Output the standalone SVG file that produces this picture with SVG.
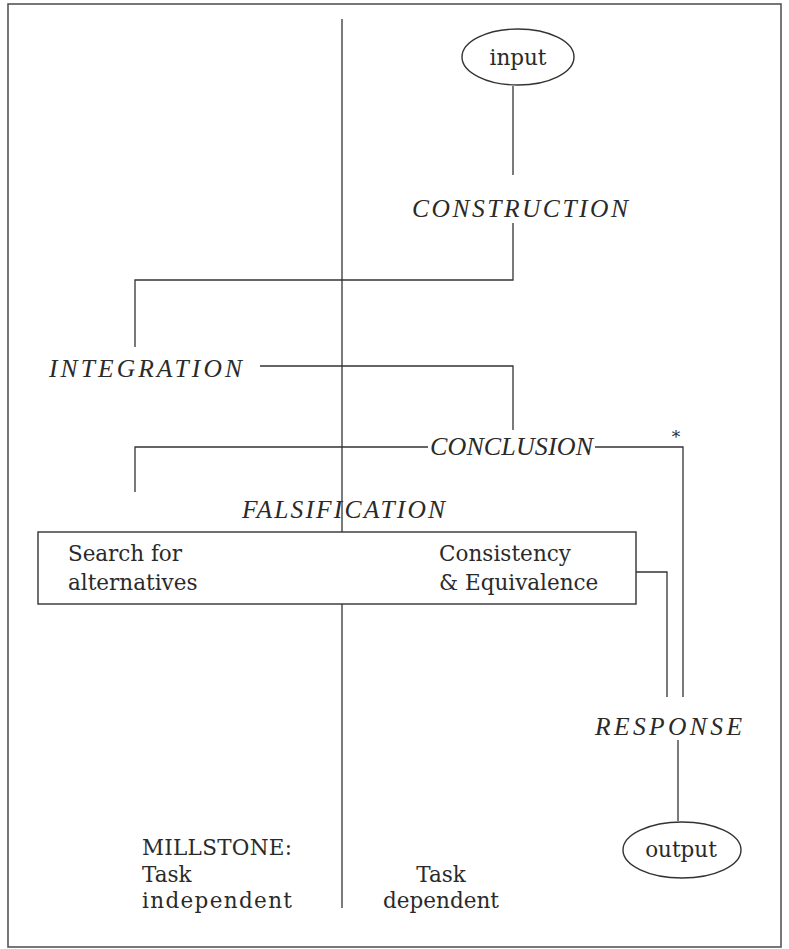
<svg xmlns="http://www.w3.org/2000/svg" width="789" height="949" viewBox="0 0 789 949">
<style>
.cap{font-family:"Liberation Serif","Times New Roman",serif;font-style:italic;font-size:25.5px;fill:#2a2a2a}
.txt{font-family:"DejaVu Serif","Liberation Serif",serif;font-size:21.5px;fill:#2a2a2a}
.ln{fill:none;stroke:#333;stroke-width:1.3}
.frame{fill:none;stroke:#555;stroke-width:1.6}
.shape{fill:#fff;stroke:#333;stroke-width:1.4}
</style>
<rect x="0" y="0" width="789" height="949" fill="#fff"/>
<rect class="frame" x="8" y="4" width="773" height="943"/>
<line class="ln" x1="342" y1="19" x2="342" y2="908"/>
<g id="connectors">
<path class="ln" d="M513 86 V175"/>
<path class="ln" d="M513 223 V280 H135 V347"/>
<path class="ln" d="M260 366 H513 V430"/>
<path class="ln" d="M428 447 H135 V492"/>
<path class="ln" d="M595 447 H683 V697"/>
<path class="ln" d="M636 572 H667 V697"/>
<path class="ln" d="M678 740 V821"/>
</g>
<g id="input">
<ellipse class="shape" cx="518" cy="57" rx="56" ry="28"/>
<text class="txt" x="518" y="65" text-anchor="middle">input</text>
</g>
<g id="construction"><text class="cap" x="412" y="217" textLength="216">CONSTRUCTION</text></g>
<g id="integration"><text class="cap" x="49" y="377" textLength="193">INTEGRATION</text></g>
<g id="conclusion">
<text class="cap" x="430" y="455" textLength="163" style="font-size:26px">CONCLUSION</text>
<text class="txt" x="676" y="443" text-anchor="middle" style="font-size:17px">*</text>
</g>
<g id="falsification">
<text class="cap" x="242" y="518" textLength="203">FALSIFICATION</text>
<rect class="shape" x="38" y="532" width="598" height="72"/>
<text class="txt" x="68" y="561" textLength="114">Search for</text>
<text class="txt" x="68" y="590">alternatives</text>
<text class="txt" x="439" y="561" textLength="132">Consistency</text>
<text class="txt" x="439" y="590">&amp; Equivalence</text>
</g>
<g id="response"><text class="cap" x="595" y="735" textLength="147">RESPONSE</text></g>
<g id="output">
<ellipse class="shape" cx="682" cy="850" rx="59" ry="28"/>
<text class="txt" x="681" y="857" text-anchor="middle">output</text>
</g>
<g id="millstone">
<text class="txt" x="142" y="855" textLength="150">MILLSTONE:</text>
<text class="txt" x="142" y="882">Task</text>
<text class="txt" x="142" y="908" textLength="150">independent</text>
</g>
<g id="taskdep">
<text class="txt" x="441" y="882" text-anchor="middle">Task</text>
<text class="txt" x="441" y="908" text-anchor="middle">dependent</text>
</g>
</svg>
